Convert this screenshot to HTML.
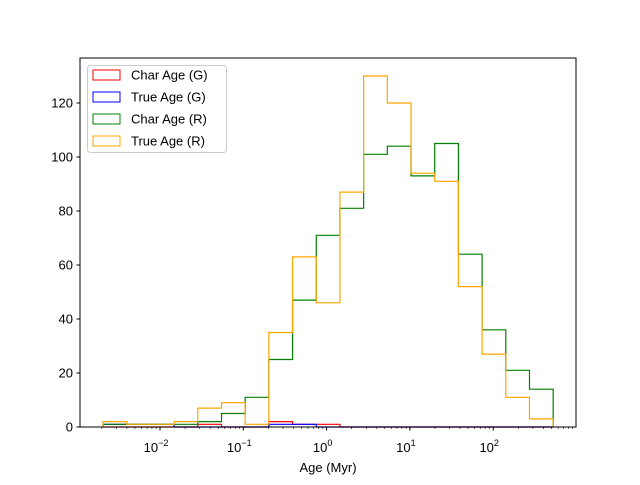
<!DOCTYPE html>
<html><head><meta charset="utf-8"><style>
body{margin:0;background:#fff;font-family:"Liberation Sans","DejaVu Sans",sans-serif}
</style></head><body>
<svg id="chart" width="640" height="480" xmlns="http://www.w3.org/2000/svg">
<rect width="640" height="480" fill="#fff"/>
<g id="plot"></g>
<rect x="80" y="58" width="496" height="369" fill="none" stroke="#000" stroke-width="1"/>
<g id="axes"></g>
<text x="328" y="472" font-size="13" text-anchor="middle">Age (Myr)</text>
<g id="legend">
<rect x="87.5" y="65.5" width="139" height="87" rx="3" fill="#fff" fill-opacity="0.8" stroke="#ccc"/>
</g>
</svg>
<script>
const logEdgeMin = -2.684;
const logEdgeMax = 2.72;
const nBins = 19;
const charAgeG = [0,0,0,0,1,0,0,2,1,1,0,0,0,0,0,0,0,0,0];
const trueAgeG = [1,1,1,0,0,0,0,1,1,0,0,0,0,0,0,0,0,0,0];
const charAgeR = [1,1,1,1,2,5,11,25,47,71,81,101,104,93,105,64,36,21,14];
const trueAgeR = [2,1,1,2,7,9,1,35,63,46,87,130,120,94,91,52,27,11,3];
const yTicks = [0,20,40,60,80,100,120];
const xTickExps = [-2,-1,0,1,2];
const seriesNames = ["Char Age (G)","True Age (G)","Char Age (R)","True Age (R)"];
const seriesColors = ["red","blue","green","orange"];

const NS="http://www.w3.org/2000/svg";
const X0=80,X1=576,Y0=427,Y1=58;
const lx=v=>160+(v+2)*83.3;
const y=v=>Y0-v*2.7;
function el(t,a,p){const e=document.createElementNS(NS,t);for(const k in a)e.setAttribute(k,a[k]);p.appendChild(e);return e;}
const plot=document.getElementById('plot'),axes=document.getElementById('axes'),leg=document.getElementById('legend');
const step=(logEdgeMax-logEdgeMin)/nBins;
const all=[charAgeG,trueAgeG,charAgeR,trueAgeR];
all.forEach((vals,s)=>{
  let d=`M${lx(logEdgeMin)},${y(0)}`;
  vals.forEach((v,i)=>{d+=` L${lx(logEdgeMin+i*step)},${y(v)} L${lx(logEdgeMin+(i+1)*step)},${y(v)}`;});
  d+=` L${lx(logEdgeMax)},${y(0)}`;
  const p=el('path',{d:d,fill:'none',stroke:seriesColors[s],'stroke-width':1.2},plot);
  
  
});
yTicks.forEach(t=>{
  el('line',{x1:X0-3.5,x2:X0,y1:y(t),y2:y(t),stroke:'#000'},axes);
  const tx=el('text',{x:X0-7,y:y(t)+4.5,'font-size':13,'text-anchor':'end'},axes);
  tx.textContent=t;
  
  
});
for(let e=-3;e<=2;e++){for(let m=2;m<=9;m++){const v=e+Math.log10(m);const px=lx(v);if(px>X0&&px<X1)el('line',{x1:px,x2:px,y1:Y0,y2:Y0+2,stroke:'#000','stroke-width':0.6},axes);}}
xTickExps.forEach(e=>{
  const px=lx(e);
  el('line',{x1:px,x2:px,y1:Y0,y2:Y0+3.5,stroke:'#000'},axes);
  const tx=el('text',{x:px-4,y:Y0+25,'font-size':13,'text-anchor':'middle'},axes);
  
  
  tx.appendChild(document.createTextNode('10'));
  const ts=el('tspan',{dy:-6,'font-size':9},tx);ts.textContent=String(e).replace('-','−');
});
seriesNames.forEach((n,i)=>{
  const yy=75+i*22;
  const r=el('rect',{x:93,y:yy-5,width:27,height:10,fill:'none',stroke:seriesColors[i]},leg);
  
  
  const t=el('text',{x:131,y:yy+4.5,'font-size':13},leg);t.textContent=n;
  
  
});
</script>
</body></html>
